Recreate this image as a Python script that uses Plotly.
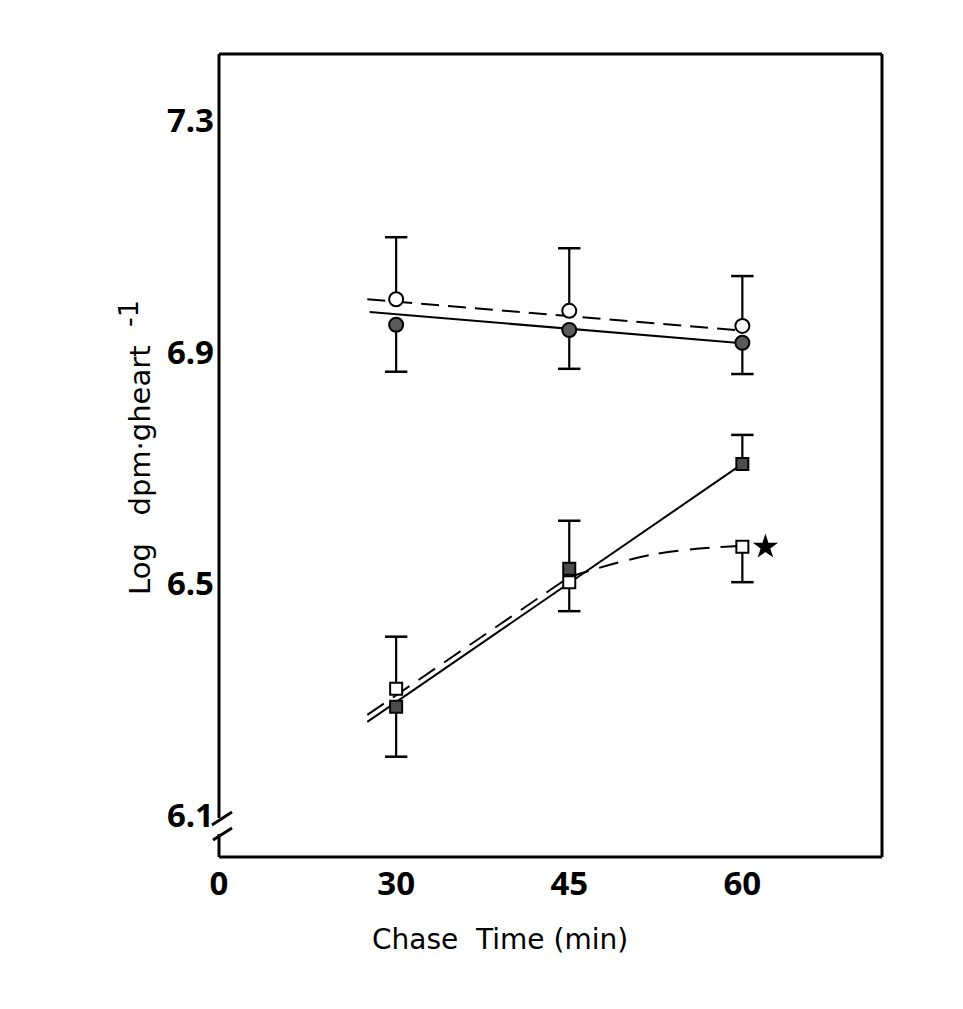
import plotly.graph_objects as go

# Chase time points (min)
chase_time = [30, 45, 60]

# Circles: open and filled (log dpm per g heart)
open_circle = [6.991, 6.971, 6.945]
open_circle_err_up = [0.107, 0.108, 0.086]
filled_circle = [6.947, 6.938, 6.916]
filled_circle_err_down = [0.081, 0.067, 0.054]

# Squares
open_square = [6.319, 6.503, 6.564]
open_square_err_up = [0.090, 0.0, 0.0]
open_square_err_down = [0.0, 0.050, 0.061]
filled_square = [6.288, 6.526, 6.707]
filled_square_err_up = [0.0, 0.083, 0.050]
filled_square_err_down = [0.086, 0.0, 0.0]

# Fitted lines (ends of each drawn line, and points along the curved fit)
fit_open_circle_t = [27.5, 60]
fit_open_circle_v = [6.991, 6.937]
fit_filled_circle_t = [27.7, 60]
fit_filled_circle_v = [6.969, 6.915]
fit_filled_square_t = [27.5, 60]
fit_filled_square_v = [6.262, 6.707]
fit_open_square_lin_t = [27.5, 45]
fit_open_square_lin_v = [6.274, 6.512]
fit_open_square_curve_t = [45, 52.3, 60]
fit_open_square_curve_v = [6.512, 6.551, 6.566]

# Significance mark next to the 60-min open square
star_t = [62.0]
star_v = [6.564]

x_range = [14.65, 72.1]
y_range = [6.029, 7.414]
x_tickvals = [14.65, 30, 45, 60]
x_ticktext = ["0", "30", "45", "60"]
y_tickvals = [6.1, 6.5, 6.9, 7.3]
y_ticktext = ["6.1", "6.5", "6.9", "7.3"]

INK = "black"
DASH_TOP = "18px,9px"
DASH_LOW = "20px,11px"

fig = go.Figure()


def add_line(t, v, dash=None, shape="linear"):
    fig.add_trace(go.Scatter(
        x=t, y=v, mode="lines", line_shape=shape,
        line=dict(color=INK, width=2, dash=dash or "solid", smoothing=1.0),
        hoverinfo="skip", showlegend=False))


def add_errorbars(t, v, up, down):
    xs, ys, cx, cy = [], [], [], []
    for ti, vi, u, d in zip(t, v, up, down):
        if u > 0:
            xs += [ti, ti, None]
            ys += [vi, vi + u, None]
            cx.append(ti)
            cy.append(vi + u)
        if d > 0:
            xs += [ti, ti, None]
            ys += [vi, vi - d, None]
            cx.append(ti)
            cy.append(vi - d)
    fig.add_trace(go.Scatter(x=xs, y=ys, mode="lines",
                             line=dict(color=INK, width=2.2),
                             hoverinfo="skip", showlegend=False))
    fig.add_trace(go.Scatter(x=cx, y=cy, mode="markers",
                             marker=dict(symbol="line-ew", size=16,
                                         line=dict(color=INK, width=2.5)),
                             hoverinfo="skip", showlegend=False))


def add_points(t, v, symbol, fill, size):
    fig.add_trace(go.Scatter(
        x=t, y=v, mode="markers",
        marker=dict(symbol=symbol, size=size, color=fill,
                    line=dict(color=INK, width=2)),
        showlegend=False))


# fitted lines
add_line(fit_open_circle_t, fit_open_circle_v, dash=DASH_TOP)
add_line(fit_filled_circle_t, fit_filled_circle_v)
add_line(fit_filled_square_t, fit_filled_square_v)
add_line(fit_open_square_lin_t, fit_open_square_lin_v, dash=DASH_LOW)
add_line(fit_open_square_curve_t, fit_open_square_curve_v, dash=DASH_LOW, shape="spline")

# error bars
zeros = [0.0, 0.0, 0.0]
add_errorbars(chase_time, open_circle, open_circle_err_up, zeros)
add_errorbars(chase_time, filled_circle, zeros, filled_circle_err_down)
add_errorbars(chase_time, open_square, open_square_err_up, open_square_err_down)
add_errorbars(chase_time, filled_square, filled_square_err_up, filled_square_err_down)

# data points
add_points(chase_time, open_circle, "circle", "white", 14)
add_points(chase_time, filled_circle, "circle", "#5a5a5a", 14)
add_points(chase_time, filled_square, "square", "#4d4d4d", 12)
add_points(chase_time, open_square, "square", "white", 12)
fig.add_trace(go.Scatter(x=star_t, y=star_v, mode="markers",
                         marker=dict(symbol="star", size=19, color=INK,
                                     line=dict(width=0)),
                         showlegend=False))

# frame with a broken left axis
frame = dict(color=INK, width=3)
shapes = [
    dict(type="line", xref="paper", yref="paper", x0=0, y0=1, x1=1, y1=1, line=frame),
    dict(type="line", xref="paper", yref="paper", x0=1, y0=1, x1=1, y1=0, line=frame),
    dict(type="line", xref="paper", yref="paper", x0=0, y0=0, x1=1, y1=0, line=frame),
    dict(type="line", xref="paper", yref="paper", x0=0, y0=1, x1=0, y1=0.0486, line=frame),
    dict(type="line", xref="paper", yref="paper", x0=0, y0=0.0286, x1=0, y1=0, line=frame),
    dict(type="line", xref="paper", yref="paper", x0=-0.0106, y0=0.0399, x1=0.0196, y1=0.0560, line=frame),
    dict(type="line", xref="paper", yref="paper", x0=-0.009, y0=0.0212, x1=0.0196, y1=0.0361, line=frame),
]

tick_font = dict(family="Noto Sans", size=33, color=INK, weight="bold")
NB = "\u00a0"

fig.update_layout(
    width=963, height=1009,
    margin=dict(l=219, r=81, t=54, b=152),
    paper_bgcolor="white", plot_bgcolor="white",
    shapes=shapes,
    xaxis=dict(range=x_range, tickvals=x_tickvals, ticktext=x_ticktext,
               showgrid=False, zeroline=False, showline=False, ticks="",
               tickfont=tick_font, ticklabelstandoff=4),
    yaxis=dict(range=y_range, tickvals=y_tickvals, ticktext=y_ticktext,
               showgrid=False, zeroline=False, showline=False, ticks="",
               tickfont=tick_font, ticklabelstandoff=4),
    annotations=[
        dict(text="Chase" + NB + NB + "Time" + NB + "(min)", xref="paper", yref="paper",
             x=0.424, y=-0.103, xanchor="center", yanchor="middle",
             showarrow=False,
             font=dict(family="DejaVu Sans", size=28, color=INK)),
        dict(text="Log" + NB + NB + NB + "dpm·gheart" + NB + NB
             + "<sup><span style='font-size:27px'>-1</span></sup>",
             xref="paper", yref="paper",
             x=-0.126, y=0.51, xanchor="center", yanchor="middle",
             textangle=-90, showarrow=False,
             font=dict(family="DejaVu Sans", size=29, color=INK)),
    ],
)

fig.write_html("out.html")
